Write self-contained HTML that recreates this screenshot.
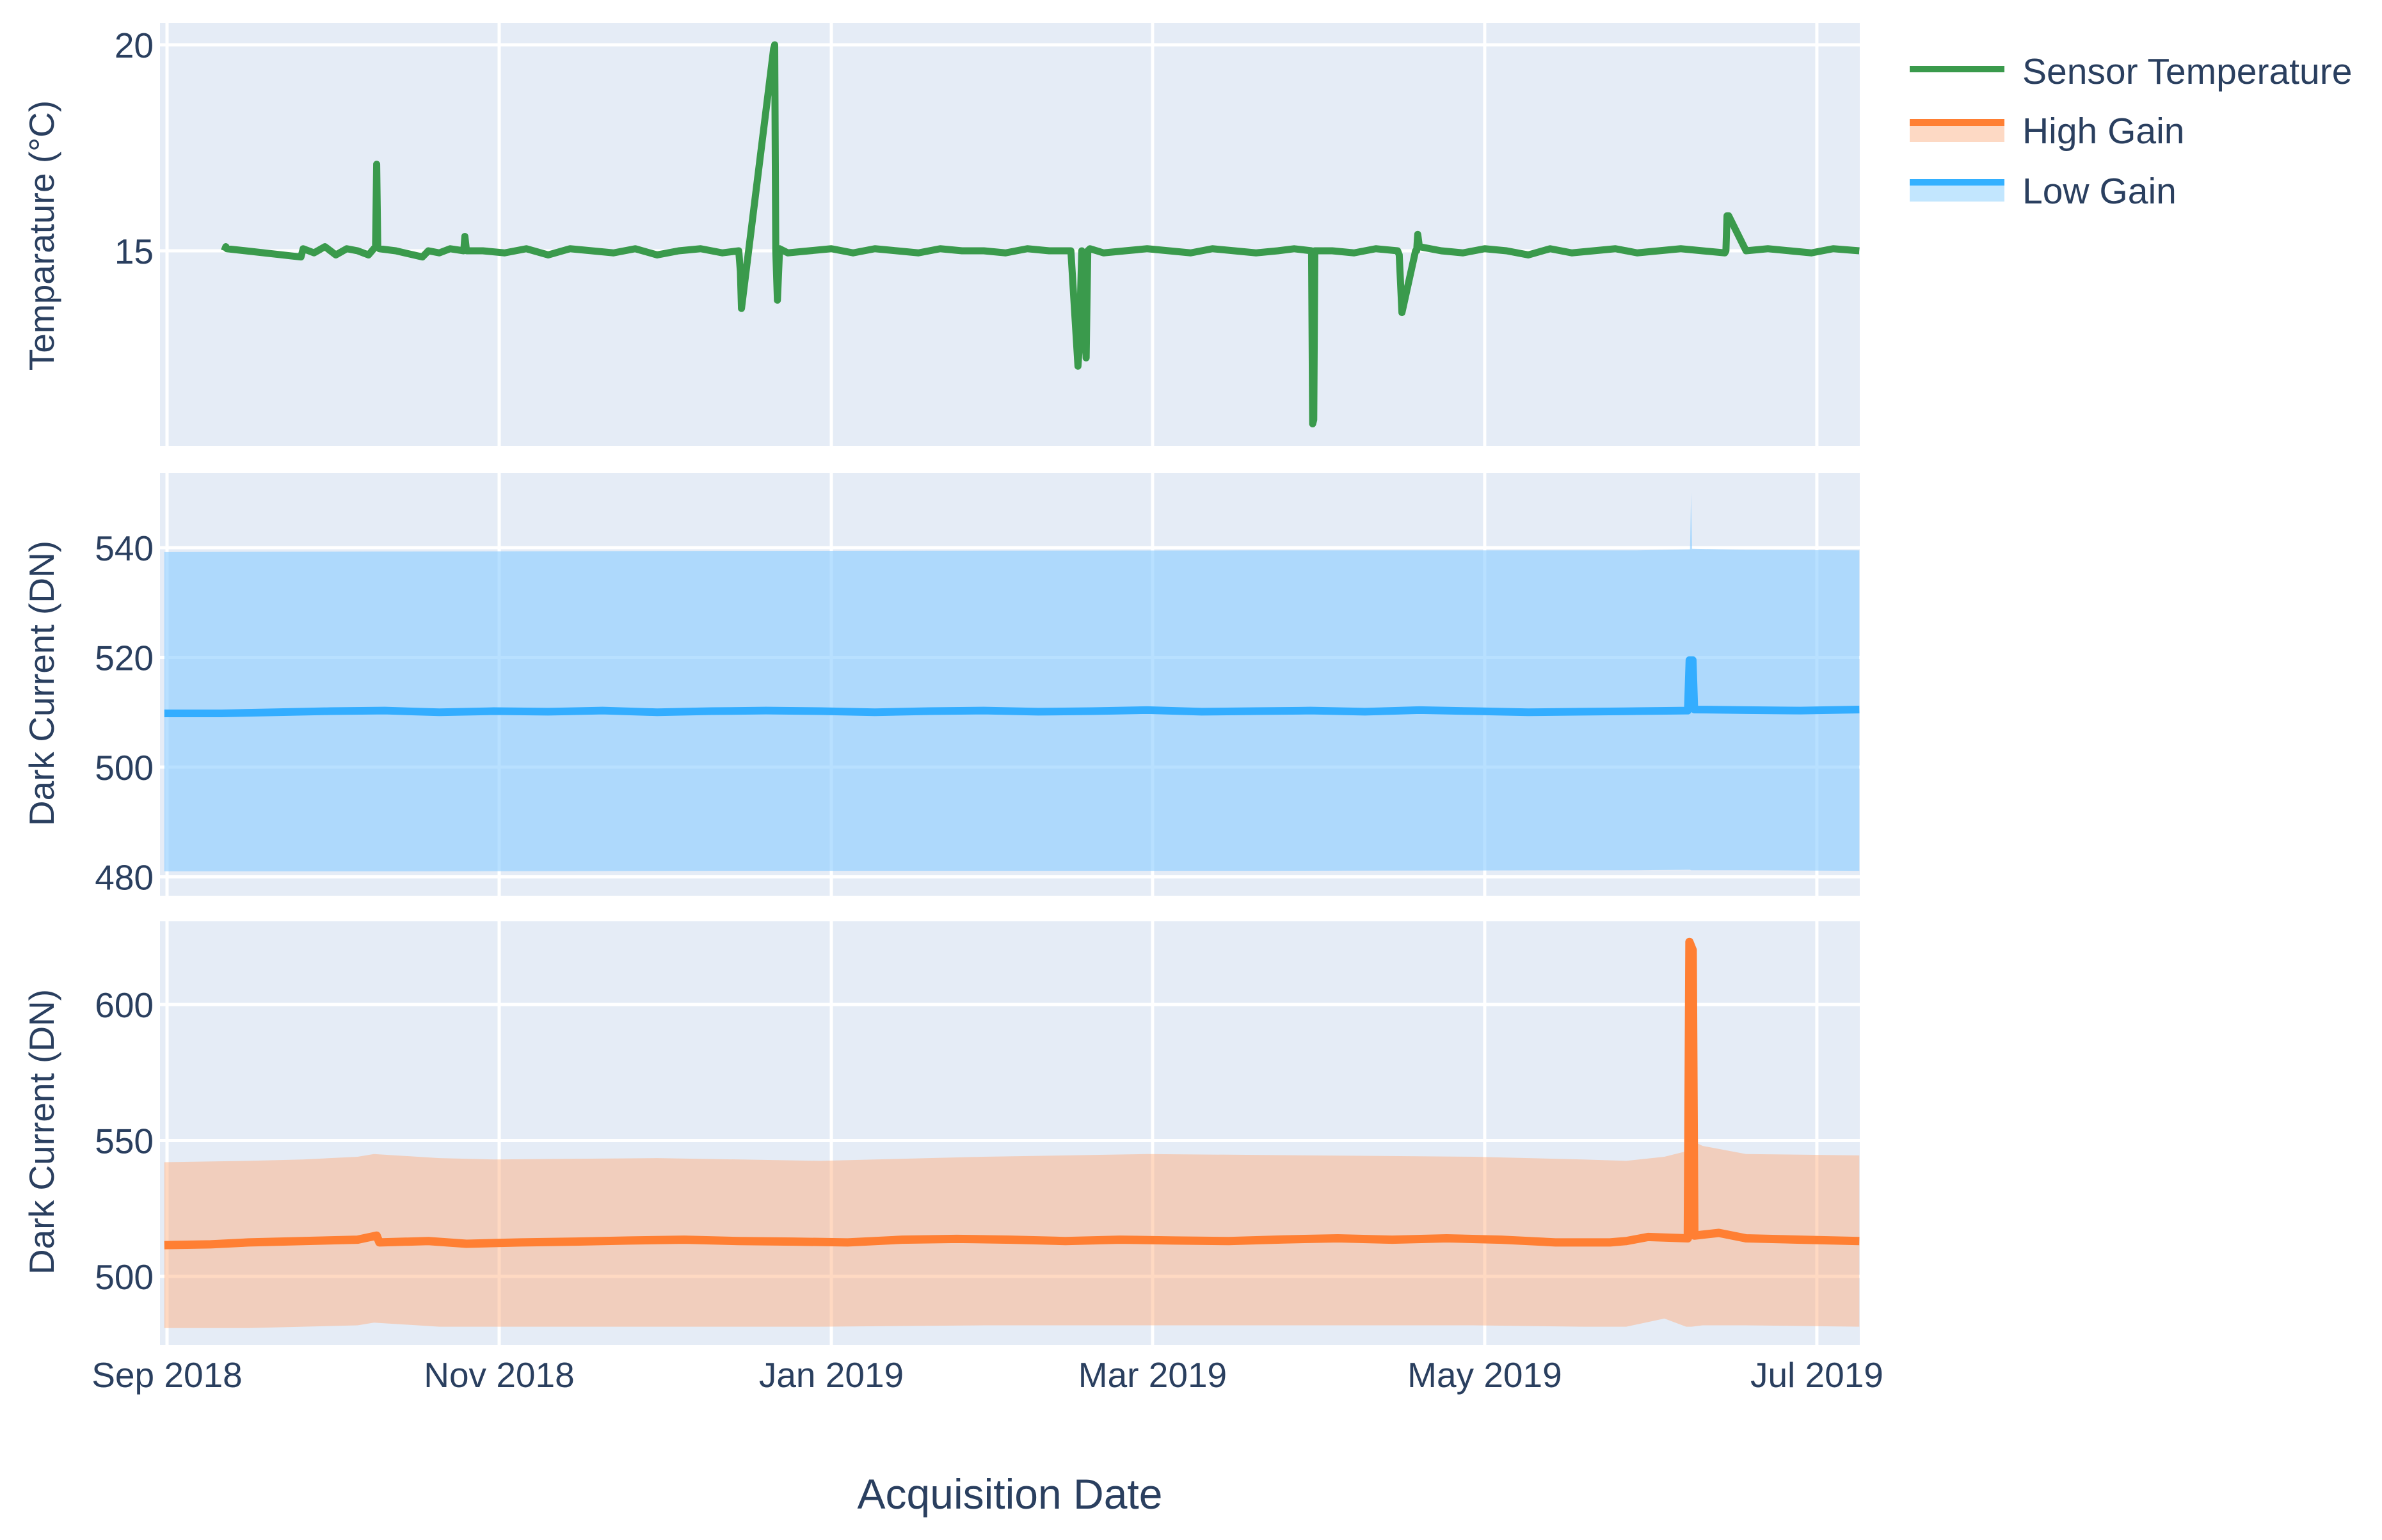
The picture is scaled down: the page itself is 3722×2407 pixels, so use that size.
<!DOCTYPE html>
<html><head><meta charset="utf-8">
<style>
html,body{margin:0;padding:0;background:#fff;}
svg{display:block;font-family:"Liberation Sans",sans-serif;}
</style></head>
<body>
<svg id="chart" width="3722" height="2407" viewBox="0 0 3722 2407" xmlns="http://www.w3.org/2000/svg">
<g id="bgs"></g>
<g id="grids"></g>
<g id="marks"></g>
<g id="axes" fill="#2a3f5f"></g>
<g id="legend">
  <g>
    <line x1="2984" y1="108" x2="3132" y2="108" stroke="#3a9a4c" stroke-width="10"/>
    <text x="3160" y="131" font-size="57" fill="#2a3f5f">Sensor Temperature</text>
  </g>
  <g>
    <rect x="2984" y="186" width="148" height="36" fill="#fdd9c4"/>
    <rect x="2984" y="186" width="148" height="11" fill="#ff7f33"/>
    <text x="3160" y="224" font-size="57" fill="#2a3f5f">High Gain</text>
  </g>
  <g>
    <rect x="2984" y="280" width="148" height="35" fill="#c2e6fe"/>
    <rect x="2984" y="280" width="148" height="10" fill="#33b0ff"/>
    <text x="3160" y="318" font-size="57" fill="#2a3f5f">Low Gain</text>
  </g>
</g>
<text x="1578" y="2358" font-size="66" fill="#2a3f5f" text-anchor="middle">Acquisition Date</text>
</svg>
<script>
// ---- data (days since 2018-09-01) ----
const xTickLabels = ["Sep 2018","Nov 2018","Jan 2019","Mar 2019","May 2019","Jul 2019"];
const xTickDays = [0,61,122,181,242,303];

const tempDays = [10.5,10.8,11,24.6,25,27,29,31,33,35,37,38.3,38.5,38.7,39,42,46.9,48,50,52,54.5,54.7,55,58,62,66,70,74,78,82,86,90,94,98,102,105,105.3,105.5,111.4,111.6,111.8,112.1,112.5,114,118,122,126,130,134,138,142,146,150,154,158,162,166,167.3,167.5,168,168.8,169.1,169.5,172,176,180,184,188,192,196,200,204,207,210.2,210.4,210.6,210.8,214,218,222,226,226.3,226.8,229.3,229.5,229.7,230,234,238,242,246,250,254,258,262,266,270,274,278,282,286.1,286.3,286.5,286.8,290,294,298,302,306,310.8];
const tempVals = [15.0,15.1,15.05,14.85,15.05,14.95,15.1,14.9,15.05,15.0,14.9,15.1,17.1,15.1,15.05,15.0,14.85,15.0,14.95,15.05,15.0,15.35,15.0,15.0,14.95,15.05,14.9,15.05,15.0,14.95,15.05,14.9,15.0,15.05,14.95,15.0,14.5,13.6,19.9,20.0,15.0,13.8,15.05,14.95,15.0,15.05,14.95,15.05,15.0,14.95,15.05,15.0,15.0,14.95,15.05,15.0,15.0,12.2,12.6,15.0,12.4,15.0,15.05,14.95,15.0,15.05,15.0,14.95,15.05,15.0,14.95,15.0,15.05,15.0,10.8,10.9,15.0,15.0,14.95,15.05,15.0,14.9,13.5,15.0,15.0,15.4,15.1,15.0,14.95,15.05,15.0,14.9,15.05,14.95,15.0,15.05,14.95,15.0,15.05,15.0,14.95,15.0,15.85,15.85,15.0,15.05,15.0,14.95,15.05,15.0,14.95,15.0];

const lowDays = [-0.5,10,20,30,40,50,60,70,80,90,100,110,120,130,140,150,160,170,180,190,200,210,220,230,240,250,260,270,279.3,279.6,280.2,280.5,290,300,310.8];
const lowVals = [509.8,509.8,510,510.2,510.3,510,510.2,510.1,510.3,510,510.2,510.3,510.2,510,510.2,510.3,510.1,510.2,510.4,510.1,510.2,510.3,510.1,510.4,510.2,510,510.1,510.2,510.3,519.5,519.5,510.5,510.4,510.3,510.5];
const lowBandDays = [-0.5,40,100,200,270,279.7,279.9,280.1,290,310.8];
const lowBandUpper = [539.2,539.3,539.4,539.5,539.5,539.7,550,539.8,539.6,539.5];
const lowBandLower = [481,481,481.1,481.1,481.2,481.3,481.2,481.2,481.2,481.1];

const highDays = [-0.5,8,15,25,35,38.5,39,48,55,65,75,85,95,105,115,125,135,145,155,165,175,185,195,205,215,225,235,245,255,265,268,272,279.3,279.6,280.2,280.5,285,290,300,310.8];
const highVals = [511.5,511.8,512.5,513,513.5,515,512.5,513,512,512.5,512.8,513.2,513.5,513,512.8,512.5,513.5,513.8,513.5,513,513.5,513.2,513,513.6,514,513.5,514,513.5,512.5,512.5,513,514.5,514,623,620,515,516,514,513.5,513];
const highBandDays = [-0.5,15,25,35,38,50,60,90,120,150,180,210,240,260,268,275,279,280,282,290,310.8];
const highBandUpper = [542,542.5,543,544,545,543.5,543,543.5,542.5,544,545,544.5,544,543,542.5,544,546,550,548,545,544.5];
const highBandLower = [481,481,481.5,482,483,481.5,481.5,481.5,481.5,482,482,482,482,481.5,481.5,484.5,481.5,481.5,482,482,481.5];

// ---- layout ----
const X0 = 250, X1 = 2906;
const panels = [
  {top:36, bottom:697, ticks:[15,20], base:392, ref:15, ppu:64.4, title:"Temparature (°C)", tcy:368, name:"temperature"},
  {top:739, bottom:1400, ticks:[480,500,520,540], base:1199, ref:500, ppu:8.575, title:"Dark Current (DN)", tcy:1068, name:"low-gain"},
  {top:1440, bottom:2102, ticks:[500,550,600], base:1995, ref:500, ppu:4.25, title:"Dark Current (DN)", tcy:1769, name:"high-gain"}
];
function xs(d){ return 261 + d*8.508; }
function ys(p,v){ return p.base - (v - p.ref)*p.ppu; }
const NS = "http://www.w3.org/2000/svg";
function mk(tag, parent, attrs){ const e = document.createElementNS(NS, tag); for (const k in attrs) e.setAttribute(k, attrs[k]); parent.appendChild(e); return e; }
const bgs = document.getElementById('bgs'), grids = document.getElementById('grids'), marks = document.getElementById('marks'), axes = document.getElementById('axes');

panels.forEach((p, i) => {
  const r = mk('rect', bgs, {x:X0, y:p.top, width:X1-X0, height:p.bottom-p.top, fill:'#e5ecf6'});
  
  
  xTickDays.forEach(d => {
    const l = mk('line', grids, {x1:xs(d), x2:xs(d), y1:p.top, y2:p.bottom, stroke:'#fff', 'stroke-width':5});
    
    
  });
  p.ticks.forEach(t => {
    const y = ys(p, t);
    const l = mk('line', grids, {x1:X0, x2:X1, y1:y, y2:y, stroke:'#fff', 'stroke-width':5});
    
    
    const tx = mk('text', axes, {x:240, y:y+20, 'font-size':55, 'text-anchor':'end'});
    tx.textContent = t;
    
    
  });
  const tt = mk('text', axes, {x:0, y:0, 'font-size':55, 'text-anchor':'middle', transform:'translate(84,' + p.tcy + ') rotate(-90)'});
  tt.textContent = p.title;
  
  
});

xTickDays.forEach((d, i) => {
  const t = mk('text', axes, {x:xs(d), y:2168, 'font-size':55, 'text-anchor':'middle'});
  t.textContent = xTickLabels[i];
  
  
});

function clipFor(p, id){
  const cp = mk('clipPath', marks, {id:id});
  mk('rect', cp, {x:X0, y:p.top, width:X1-X0, height:p.bottom-p.top});
  return 'url(#' + id + ')';
}
function band(p, days, up, lo, fill, name, clip){
  let pts = days.map((d,i)=> xs(d)+','+ys(p,up[i]));
  for (let i = days.length-1; i >= 0; i--) pts.push(xs(days[i])+','+ys(p,lo[i]));
  const poly = mk('polygon', marks, {points:pts.join(' '), fill:fill, 'clip-path':clip});
  
  
}
function line(p, days, vals, color, w, name, clip){
  const pts = days.map((d,i)=> xs(d)+','+ys(p,vals[i])).join(' ');
  const pl = mk('polyline', marks, {points:pts, fill:'none', stroke:color, 'stroke-width':w, 'stroke-linejoin':'round', 'clip-path':clip});
  
  
}
const c0 = clipFor(panels[0], 'c0'), c1 = clipFor(panels[1], 'c1'), c2 = clipFor(panels[2], 'c2');
line(panels[0], tempDays, tempVals, '#3a9a4c', 11, 'sensor-temperature-line', c0);
band(panels[1], lowBandDays, lowBandUpper, lowBandLower, 'rgba(140,205,255,0.62)', 'low-gain-band', c1);
line(panels[1], lowDays, lowVals, '#33adff', 12, 'low-gain-line', c1);
band(panels[2], highBandDays, highBandUpper, highBandLower, 'rgba(255,170,120,0.45)', 'high-gain-band', c2);
line(panels[2], highDays, highVals, '#ff7f33', 13, 'high-gain-line', c2);
</script>
</body></html>
